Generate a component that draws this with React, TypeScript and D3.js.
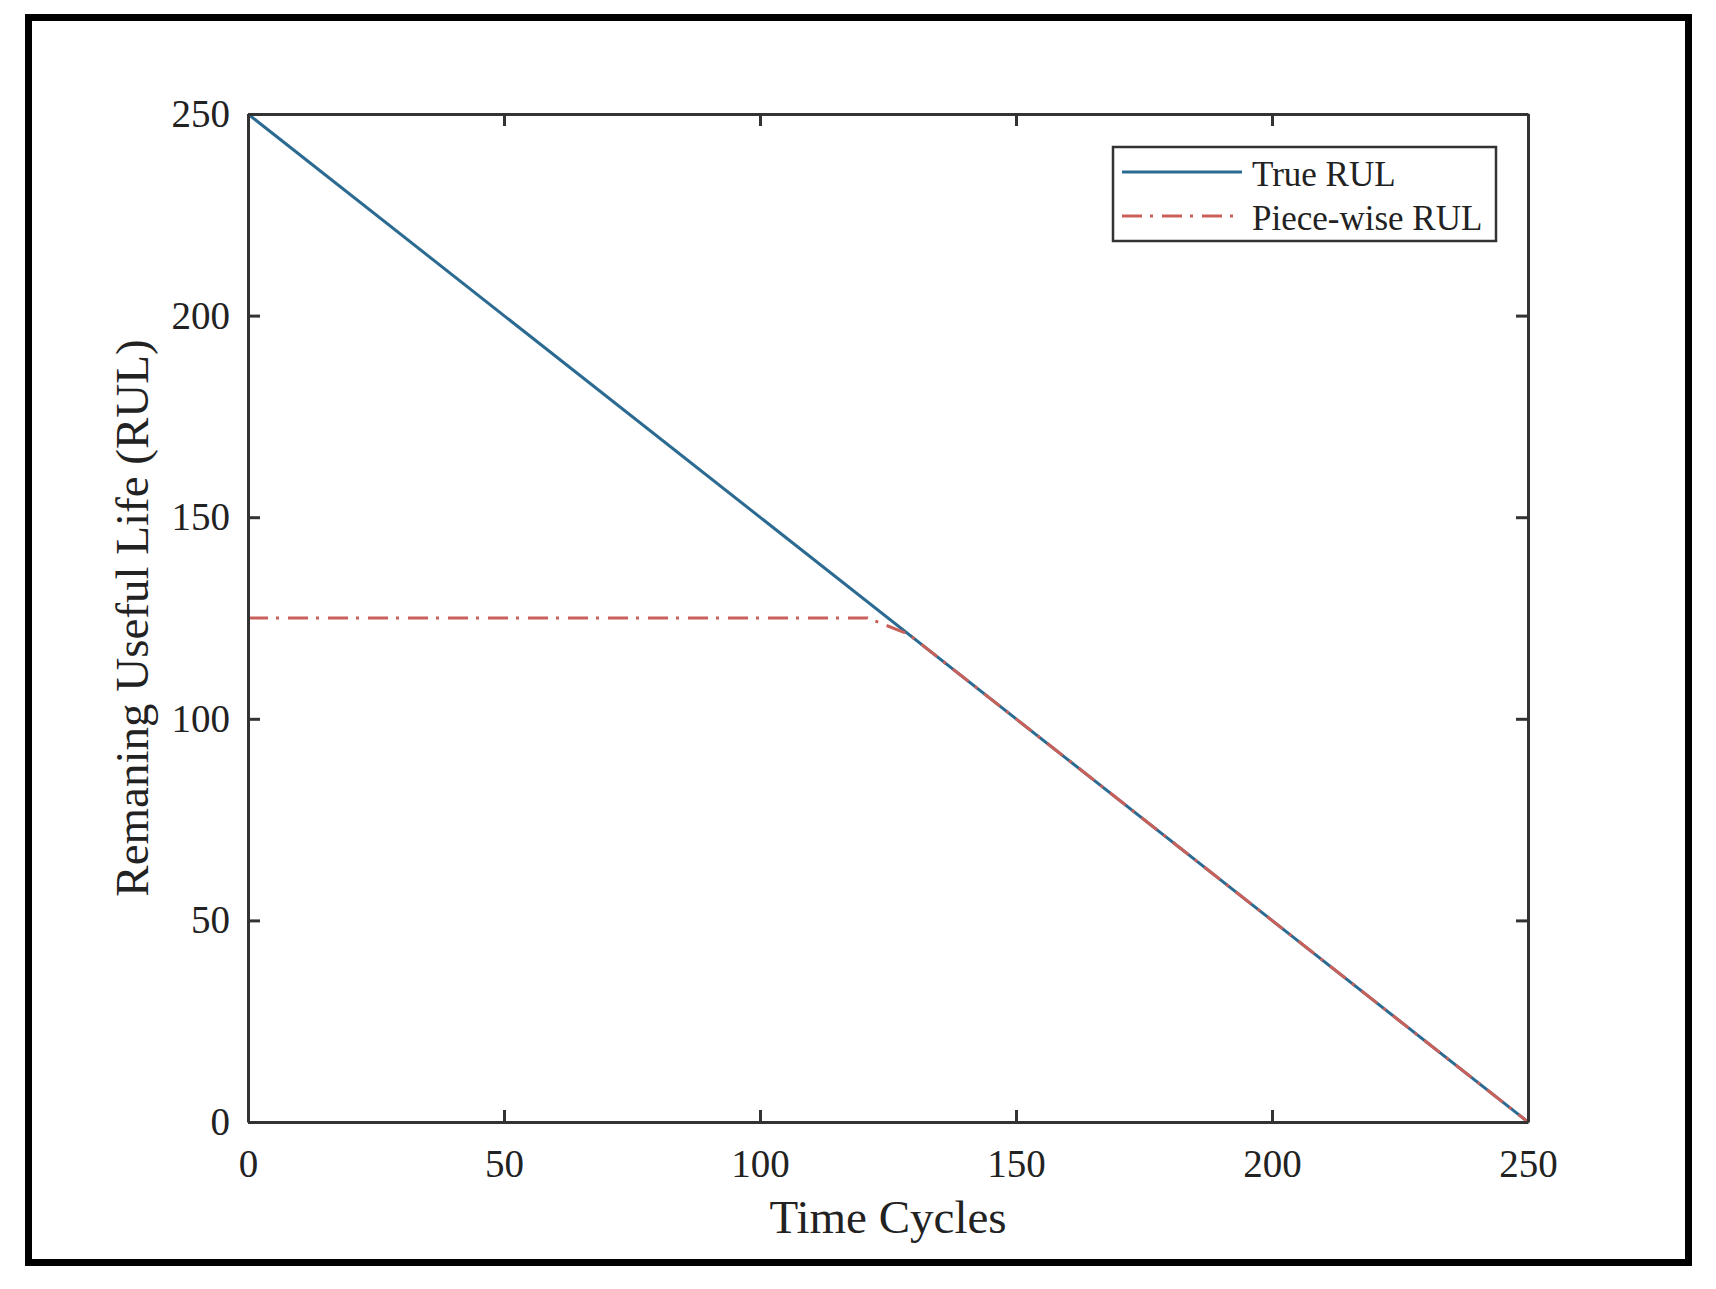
import React, { useRef, useEffect } from "react";
import * as d3 from "d3";

// data
const trueRulX = [0, 250];
const trueRulY = [250, 0];
const pieceRulX = [0, 121, 129, 250];
const pieceRulY = [125, 125, 121, 0];
const xTicks = [0, 50, 100, 150, 200, 250];
const yTicks = [0, 50, 100, 150, 200, 250];
const seriesNames = ["True RUL", "Piece-wise RUL"];
const seriesColors = ["#2b6a91", "#c9605a"];

const W = 1716;
const H = 1289;
const FONT = "'Liberation Serif', 'Times New Roman', serif";

const RulChart = () => {
  const svgRef = useRef(null);

  useEffect(() => {
    const svg = d3.select(svgRef.current);
    svg.selectAll("*").remove();

    const left = 248;
    const right = 1528;
    const top = 114;
    const bottom = 1122;

    const xScale = d3.scaleLinear().domain([0, 250]).range([left, right]);
    const yScale = d3.scaleLinear().domain([0, 250]).range([bottom, top]);

    // outer frame
    svg
      .append("rect")
      .attr("x", 28.5)
      .attr("y", 17.5)
      .attr("width", 1660)
      .attr("height", 1245)
      .attr("fill", "white")
      .attr("stroke", "black")
      .attr("stroke-width", 7);

    const line = d3
      .line()
      .x((d) => xScale(d[0]))
      .y((d) => yScale(d[1]));

    const trueData = trueRulX.map((x, i) => [x, trueRulY[i]]);
    const pieceData = pieceRulX.map((x, i) => [x, pieceRulY[i]]);

    svg
      .append("path")
      .datum(trueData)
      .attr("fill", "none")
      .attr("stroke", seriesColors[0])
      .attr("stroke-width", 3)
      .attr("d", line);

    svg
      .append("path")
      .datum(pieceData)
      .attr("fill", "none")
      .attr("stroke", seriesColors[1])
      .attr("stroke-width", 3)
      .attr("stroke-dasharray", "20 8 3 9")
      .attr("d", line);

    // axes, ticks pointing inward
    const styleAxis = (g) => {
      g.select(".domain").attr("stroke", "#333").attr("stroke-width", 3);
      g.selectAll(".tick line").attr("stroke", "#333").attr("stroke-width", 3);
      g.selectAll(".tick text")
        .attr("fill", "#222")
        .style("font-family", FONT)
        .style("font-size", "39px");
    };

    svg
      .append("g")
      .attr("transform", `translate(0, ${bottom})`)
      .call(d3.axisBottom(xScale).tickValues(xTicks).tickSize(-12).tickSizeOuter(0).tickPadding(27))
      .call(styleAxis);

    svg
      .append("g")
      .attr("transform", `translate(0, ${top})`)
      .call(d3.axisTop(xScale).tickValues(xTicks).tickSize(-12).tickSizeOuter(0).tickFormat(() => ""))
      .call(styleAxis);

    svg
      .append("g")
      .attr("transform", `translate(${left}, 0)`)
      .call(d3.axisLeft(yScale).tickValues(yTicks).tickSize(-12).tickSizeOuter(0).tickPadding(18))
      .call(styleAxis);

    svg
      .append("g")
      .attr("transform", `translate(${right}, 0)`)
      .call(d3.axisRight(yScale).tickValues(yTicks).tickSize(-12).tickSizeOuter(0).tickFormat(() => ""))
      .call(styleAxis);

    // axis labels
    svg
      .append("text")
      .attr("x", (left + right) / 2)
      .attr("y", 1233)
      .attr("text-anchor", "middle")
      .style("font-family", FONT)
      .style("font-size", "47px")
      .attr("fill", "#222")
      .text("Time Cycles");

    svg
      .append("text")
      .attr("transform", `translate(148, ${(top + bottom) / 2}) rotate(-90)`)
      .attr("text-anchor", "middle")
      .style("font-family", FONT)
      .style("font-size", "47px")
      .attr("fill", "#222")
      .text("Remaning Useful Life (RUL)");

    // legend
    svg
      .append("rect")
      .attr("x", 1113)
      .attr("y", 147)
      .attr("width", 383)
      .attr("height", 94)
      .attr("fill", "white")
      .attr("stroke", "#333")
      .attr("stroke-width", 2.5);

    seriesNames.forEach((name, i) => {
      const y = 172 + i * 44;
      svg
        .append("line")
        .attr("x1", 1122)
        .attr("x2", 1242)
        .attr("y1", y)
        .attr("y2", y)
        .attr("stroke", seriesColors[i])
        .attr("stroke-width", 3)
        .attr("stroke-dasharray", i === 1 ? "20 8 3 9" : null);
      svg
        .append("text")
        .attr("x", 1252)
        .attr("y", y + 14)
        .style("font-family", FONT)
        .style("font-size", "35px")
        .attr("fill", "#222")
        .text(name);
    });
  }, []);

  return (
    <svg
      ref={svgRef}
      width={W}
      height={H}
      style={{ position: "absolute", left: 0, top: 0, background: "white" }}
    />
  );
};

export default function App() {
  return <RulChart />;
}
